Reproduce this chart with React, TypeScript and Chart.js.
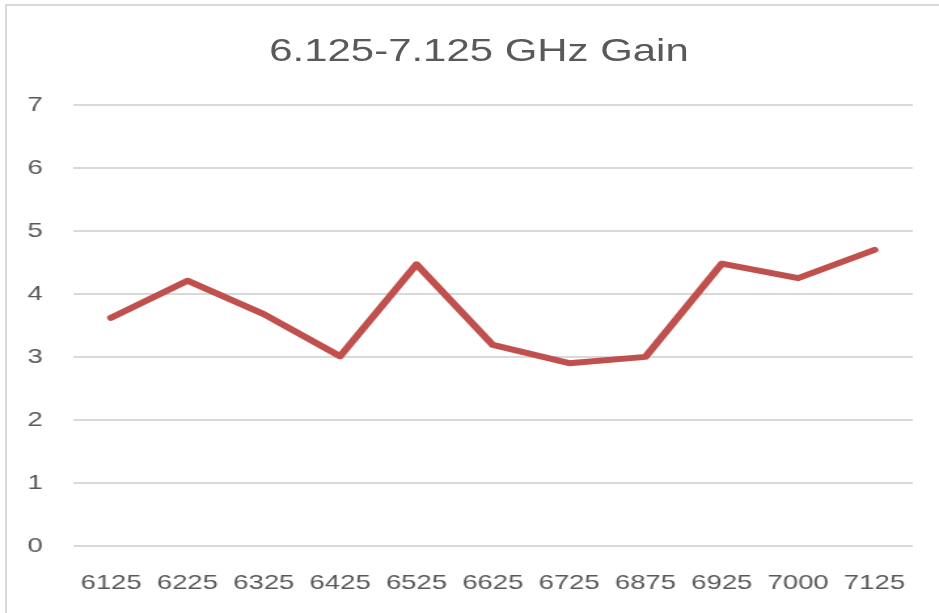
import React, { useEffect, useRef } from "react";
import { Chart, registerables } from "chart.js";

Chart.register(...registerables);

const TITLE = "6.125-7.125 GHz Gain";
const frequencies = ["6125", "6225", "6325", "6425", "6525", "6625", "6725", "6875", "6925", "7000", "7125"];
const gain = [3.62, 4.21, 3.68, 3.01, 4.47, 3.19, 2.9, 3.0, 4.48, 4.25, 4.7];
const yMin = 0;
const yMax = 7;
const yStep = 1;

const LOGICAL_W = 717;
const STRETCH = 939 / LOGICAL_W;

export default function App() {
  const ref = useRef<HTMLCanvasElement | null>(null);

  useEffect(() => {
    if (!ref.current) return;
    const chart = new Chart(ref.current, {
      type: "line",
      data: {
        labels: frequencies,
        datasets: [
          {
            label: "Gain",
            data: gain,
            borderColor: "#C0504D",
            backgroundColor: "#C0504D",
            borderWidth: 6,
            pointRadius: 0,
            tension: 0,
            borderCapStyle: "round",
            borderJoinStyle: "round",
          },
        ],
      },
      options: {
        animation: false,
        responsive: false,
        maintainAspectRatio: false,
        layout: { padding: { left: -2, right: 20, top: 105, bottom: -8 } },
        plugins: {
          legend: { display: false },
          title: { display: false },
          tooltip: { enabled: false },
        },
        scales: {
          x: {
            offset: true,
            grid: { display: false, drawTicks: false },
            border: { display: false },
            ticks: {
              color: "#595959",
              font: { family: "'Liberation Sans', Arial, sans-serif", size: 21 },
              padding: 25,
              maxRotation: 0,
              autoSkip: false,
            },
          },
          y: {
            min: yMin,
            max: yMax,
            grid: { color: "#d9d9d9", lineWidth: 2, drawTicks: false },
            border: { display: false },
            ticks: {
              stepSize: yStep,
              color: "#595959",
              font: { family: "'Liberation Sans', Arial, sans-serif", size: 21 },
              padding: 23,
            },
          },
        },
      },
    });
    return () => chart.destroy();
  }, []);

  return (
    <div style={{ position: "fixed", left: 0, top: 0, width: 939, height: 613, background: "#fff", overflow: "hidden" }}>
      <div
        style={{
          position: "absolute",
          left: 5,
          top: 4,
          width: 1000,
          height: 700,
          border: "2px solid #d9d9d9",
          boxSizing: "border-box",
        }}
      />
      <div
        style={{
          position: "absolute",
          left: 0,
          top: 0,
          width: LOGICAL_W,
          height: 613,
          transform: `scaleX(${STRETCH})`,
          transformOrigin: "0 0",
        }}
      >
        <canvas ref={ref} width={LOGICAL_W} height={613} style={{ display: "block" }} />
      </div>
      <div
        style={{
          position: "absolute",
          left: 479,
          top: 34,
          fontFamily: "'Liberation Sans', Arial, sans-serif",
          fontSize: 32,
          lineHeight: "32px",
          color: "#595959",
          whiteSpace: "nowrap",
          transform: "translateX(-50%) scaleX(1.31)",
          transformOrigin: "center",
        }}
      >
        {TITLE}
      </div>
    </div>
  );
}
